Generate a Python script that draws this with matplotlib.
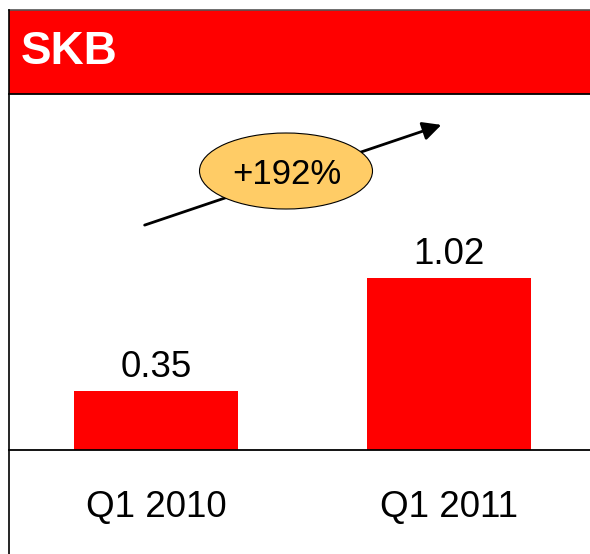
import matplotlib
matplotlib.use("Agg")
import matplotlib.pyplot as plt
from matplotlib.patches import Ellipse, Rectangle, FancyArrowPatch

# ---- data ----
categories = ["Q1 2010", "Q1 2011"]
values = [0.35, 1.02]
value_labels = ["0.35", "1.02"]
title = "SKB"
growth_label = "+192%"

plt.rcParams['font.family'] = ['Liberation Sans', 'DejaVu Sans']

W, H = 590, 554
fig = plt.figure(figsize=(W / 100, H / 100), dpi=100)

def fx(px):
    return px / W

def fy(py):
    return 1 - py / H

# main plot area: from baseline (y=450) up to header bottom (y=94)
ax = fig.add_axes([fx(9), fy(450), fx(W - 9), (450 - 94) / H])
x = list(range(len(categories)))
ax.bar(x, values, width=0.56, color="#ff0000")
ax.set_xlim(-0.502, 1.481)
ax.set_ylim(0, 2.107)
for xi, v, lab in zip(x, values, value_labels):
    ax.annotate(lab, (xi, v), xytext=(0, 10), textcoords="offset points",
                ha="center", va="baseline", fontsize=26.5)
ax.set_xticks(x)
ax.set_xticklabels(categories, fontsize=26.5)
ax.tick_params(axis="x", length=0, pad=29)
ax.set_yticks([])
for s in ["top", "right", "left"]:
    ax.spines[s].set_visible(False)
ax.spines["bottom"].set_linewidth(1.3)

# header bar
fig.add_artist(Rectangle((fx(9), fy(94)), fx(W - 9), (94 - 10) / H,
                         transform=fig.transFigure, facecolor="#ff0000",
                         edgecolor="none"))
fig.add_artist(plt.Line2D([fx(9), 1], [fy(10), fy(10)], color="#555555", lw=1.2))
fig.add_artist(plt.Line2D([fx(9), 1], [fy(94), fy(94)], color="black", lw=1.3))
fig.add_artist(plt.Line2D([fx(9), fx(9)], [fy(10), 0], color="black", lw=1.2))
fig.text(fx(21), fy(52), title, color="white", fontsize=33, fontweight="bold",
         ha="left", va="center")

# growth arrow with ellipse label
fig.add_artist(FancyArrowPatch((fx(142), fy(226)), (fx(444), fy(124)),
                               transform=fig.transFigure, arrowstyle="-|>",
                               mutation_scale=28, lw=2, color="black"))
fig.add_artist(Ellipse((fx(286), fy(171)), 173 / W, 76 / H,
                       transform=fig.transFigure, facecolor="#ffcc66",
                       edgecolor="black", lw=0.8))
fig.text(fx(287), fy(174), growth_label, fontsize=25, ha="center", va="center")

fig.savefig("out.png", dpi=100)
